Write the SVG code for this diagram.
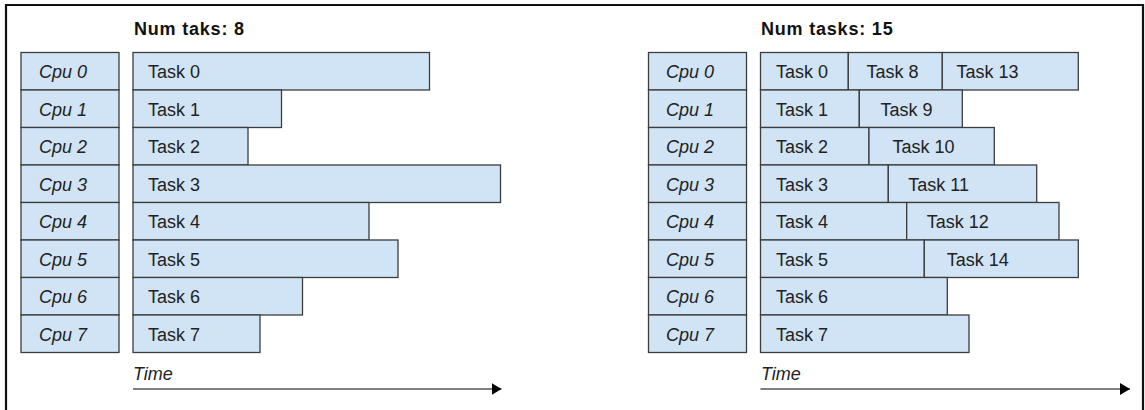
<svg xmlns="http://www.w3.org/2000/svg" width="1145" height="410" viewBox="0 0 1145 410">
<style>
.bx{fill:#d0e4f5;stroke:#3c3c3c;stroke-width:1.3}
.cpu{font-family:"Liberation Sans",Arial,sans-serif;font-style:italic;font-size:18px;fill:#222}
.tk{font-family:"Liberation Sans",Arial,sans-serif;font-size:18px;fill:#222}
.ttl{font-family:"Liberation Sans",Arial,sans-serif;font-weight:bold;font-size:18px;letter-spacing:0.8px;fill:#111}
.ax{stroke:#555;stroke-width:1.6;fill:none}
.frame{stroke:#111;stroke-width:2.2;fill:none}
</style>
<defs>
<marker id="ah" markerWidth="10" markerHeight="12" refX="10" refY="6" orient="auto" markerUnits="userSpaceOnUse">
<path d="M0,0 L10,6 L0,12 Z" fill="#000"/>
</marker>
</defs>
<rect width="1145" height="410" fill="#fff"/>
<path class="frame" d="M6,410 V5 H1143 V410"/>

<text class="ttl" x="134" y="35">Num taks: 8</text>
<text class="ttl" x="761" y="35">Num tasks: 15</text>

<!-- Left CPUs -->
<g id="l-cpu0"><rect class="bx" x="21" y="52.5" width="98" height="37.5"/><text class="cpu" x="39" y="78">Cpu 0</text></g>
<g id="l-cpu1"><rect class="bx" x="21" y="90" width="98" height="37.5"/><text class="cpu" x="39" y="115.5">Cpu 1</text></g>
<g id="l-cpu2"><rect class="bx" x="21" y="127.5" width="98" height="37.5"/><text class="cpu" x="39" y="153">Cpu 2</text></g>
<g id="l-cpu3"><rect class="bx" x="21" y="165" width="98" height="37.5"/><text class="cpu" x="39" y="190.5">Cpu 3</text></g>
<g id="l-cpu4"><rect class="bx" x="21" y="202.5" width="98" height="37.5"/><text class="cpu" x="39" y="228">Cpu 4</text></g>
<g id="l-cpu5"><rect class="bx" x="21" y="240" width="98" height="37.5"/><text class="cpu" x="39" y="265.5">Cpu 5</text></g>
<g id="l-cpu6"><rect class="bx" x="21" y="277.5" width="98" height="37.5"/><text class="cpu" x="39" y="303">Cpu 6</text></g>
<g id="l-cpu7"><rect class="bx" x="21" y="315" width="98" height="37.5"/><text class="cpu" x="39" y="340.5">Cpu 7</text></g>

<!-- Left tasks -->
<g id="l-task0"><rect class="bx" x="133" y="52.5" width="296.5" height="37.5"/><text class="tk" x="148" y="78">Task 0</text></g>
<g id="l-task1"><rect class="bx" x="133" y="90" width="148.5" height="37.5"/><text class="tk" x="148" y="115.5">Task 1</text></g>
<g id="l-task2"><rect class="bx" x="133" y="127.5" width="115" height="37.5"/><text class="tk" x="148" y="153">Task 2</text></g>
<g id="l-task3"><rect class="bx" x="133" y="165" width="367.5" height="37.5"/><text class="tk" x="148" y="190.5">Task 3</text></g>
<g id="l-task4"><rect class="bx" x="133" y="202.5" width="236" height="37.5"/><text class="tk" x="148" y="228">Task 4</text></g>
<g id="l-task5"><rect class="bx" x="133" y="240" width="265" height="37.5"/><text class="tk" x="148" y="265.5">Task 5</text></g>
<g id="l-task6"><rect class="bx" x="133" y="277.5" width="169.5" height="37.5"/><text class="tk" x="148" y="303">Task 6</text></g>
<g id="l-task7"><rect class="bx" x="133" y="315" width="127" height="37.5"/><text class="tk" x="148" y="340.5">Task 7</text></g>

<!-- Right CPUs -->
<g id="r-cpu0"><rect class="bx" x="648.5" y="52.5" width="98" height="37.5"/><text class="cpu" x="666" y="78">Cpu 0</text></g>
<g id="r-cpu1"><rect class="bx" x="648.5" y="90" width="98" height="37.5"/><text class="cpu" x="666" y="115.5">Cpu 1</text></g>
<g id="r-cpu2"><rect class="bx" x="648.5" y="127.5" width="98" height="37.5"/><text class="cpu" x="666" y="153">Cpu 2</text></g>
<g id="r-cpu3"><rect class="bx" x="648.5" y="165" width="98" height="37.5"/><text class="cpu" x="666" y="190.5">Cpu 3</text></g>
<g id="r-cpu4"><rect class="bx" x="648.5" y="202.5" width="98" height="37.5"/><text class="cpu" x="666" y="228">Cpu 4</text></g>
<g id="r-cpu5"><rect class="bx" x="648.5" y="240" width="98" height="37.5"/><text class="cpu" x="666" y="265.5">Cpu 5</text></g>
<g id="r-cpu6"><rect class="bx" x="648.5" y="277.5" width="98" height="37.5"/><text class="cpu" x="666" y="303">Cpu 6</text></g>
<g id="r-cpu7"><rect class="bx" x="648.5" y="315" width="98" height="37.5"/><text class="cpu" x="666" y="340.5">Cpu 7</text></g>

<!-- Right tasks -->
<g id="r-task0"><rect class="bx" x="760.5" y="52.5" width="87.8" height="37.5"/><text class="tk" x="776" y="78">Task 0</text></g>
<g id="r-task8"><rect class="bx" x="848.3" y="52.5" width="94" height="37.5"/><text class="tk" x="866.5" y="78">Task 8</text></g>
<g id="r-task13"><rect class="bx" x="942.3" y="52.5" width="136" height="37.5"/><text class="tk" x="956.5" y="78">Task 13</text></g>
<g id="r-task1"><rect class="bx" x="760.5" y="90" width="98.8" height="37.5"/><text class="tk" x="776" y="115.5">Task 1</text></g>
<g id="r-task9"><rect class="bx" x="859.3" y="90" width="103" height="37.5"/><text class="tk" x="880.5" y="115.5">Task 9</text></g>
<g id="r-task2"><rect class="bx" x="760.5" y="127.5" width="108.5" height="37.5"/><text class="tk" x="776" y="153">Task 2</text></g>
<g id="r-task10"><rect class="bx" x="869" y="127.5" width="125.3" height="37.5"/><text class="tk" x="892.5" y="153">Task 10</text></g>
<g id="r-task3"><rect class="bx" x="760.5" y="165" width="127.8" height="37.5"/><text class="tk" x="776" y="190.5">Task 3</text></g>
<g id="r-task11"><rect class="bx" x="888.3" y="165" width="148.4" height="37.5"/><text class="tk" x="908.3" y="190.5">Task 11</text></g>
<g id="r-task4"><rect class="bx" x="760.5" y="202.5" width="146.2" height="37.5"/><text class="tk" x="776" y="228">Task 4</text></g>
<g id="r-task12"><rect class="bx" x="906.7" y="202.5" width="152.3" height="37.5"/><text class="tk" x="926.7" y="228">Task 12</text></g>
<g id="r-task5"><rect class="bx" x="760.5" y="240" width="163.8" height="37.5"/><text class="tk" x="776" y="265.5">Task 5</text></g>
<g id="r-task14"><rect class="bx" x="924.3" y="240" width="154" height="37.5"/><text class="tk" x="946.7" y="265.5">Task 14</text></g>
<g id="r-task6"><rect class="bx" x="760.5" y="277.5" width="186.8" height="37.5"/><text class="tk" x="776" y="303">Task 6</text></g>
<g id="r-task7"><rect class="bx" x="760.5" y="315" width="208.5" height="37.5"/><text class="tk" x="776" y="340.5">Task 7</text></g>

<text class="cpu" x="133" y="379.5">Time</text>
<text class="cpu" x="761" y="379.5">Time</text>

<g id="connectors">
<line class="ax" x1="133" y1="389" x2="501.5" y2="389" marker-end="url(#ah)"/>
<line class="ax" x1="760.5" y1="389" x2="1130" y2="389" marker-end="url(#ah)"/>
</g>
</svg>
